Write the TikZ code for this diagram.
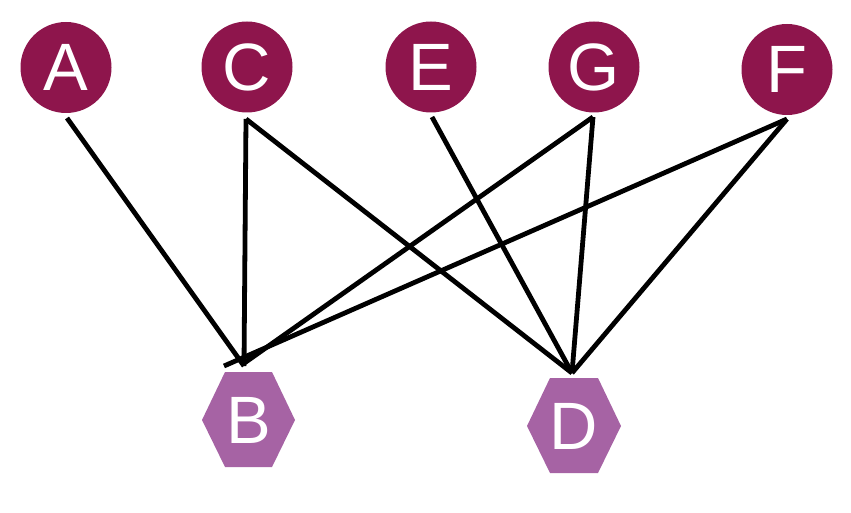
\documentclass[tikz,border=0pt]{standalone}
\usepackage{fontspec}
\setmainfont{Liberation Sans}
\definecolor{topc}{RGB}{142,21,76}
\definecolor{hexc}{RGB}{166,99,164}
\tikzset{
  circnode/.style={circle,fill=topc,minimum size=91pt,inner sep=0pt,text=white,font=\fontsize{67}{67}\selectfont},
  hexnode/.style={inner sep=0pt,text=white,font=\fontsize{67}{67}\selectfont},
  edge/.style={draw=black,line width=4.8pt}
}
\begin{document}
\begin{tikzpicture}[x=1pt,y=-1pt]
\useasboundingbox (0,0) rectangle (851,513);
% hexagon shapes
\fill[hexc] (202,420) -- (225,372) -- (272,372) -- (295,420) -- (272,467) -- (225,467) -- cycle;
\fill[hexc] (527,426) -- (550,378) -- (598,378) -- (621,426) -- (598,473) -- (550,473) -- cycle;
% nodes
\node[circnode] (A) at (66,67.5) {A};
\node[circnode] (C) at (247,67) {C};
\node[circnode] (E) at (431,67) {E};
\node[circnode] (G) at (594,67) {G};
\node[circnode] (F) at (787,69.5) {F};
\node[hexnode] (B) at (248.5,420) {B};
\node[hexnode] (D) at (574,426) {D};
% connector end points
\coordinate (a1) at (67,118);
\coordinate (c1) at (246,119);
\coordinate (e1) at (432,117);
\coordinate (g1) at (593,117);
\coordinate (f1) at (787,119);
\coordinate (bA) at (244,366);
\coordinate (bG) at (243,364);
\coordinate (bF) at (224,366);
\coordinate (d1) at (572,373);
% connectors
\draw[edge] (a1) -- (bA);
\draw[edge] (c1) -- (bA);
\draw[edge] (g1) -- (bG);
\draw[edge] (f1) -- (bF);
\draw[edge] (c1) -- (d1);
\draw[edge] (e1) -- (d1);
\draw[edge] (g1) -- (d1);
\draw[edge] (f1) -- (d1);
\end{tikzpicture}
\end{document}
